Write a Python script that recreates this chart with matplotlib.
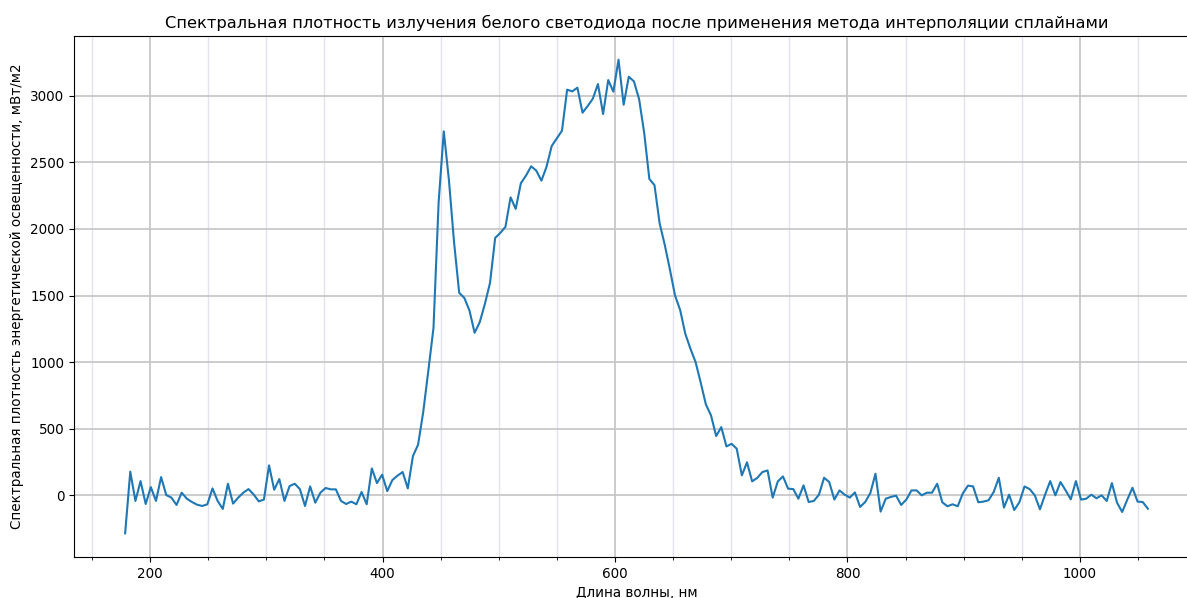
import numpy as np
import matplotlib
matplotlib.use("Agg")
import matplotlib.pyplot as plt
from matplotlib.ticker import MultipleLocator

# Wavelength grid: 200 evenly spaced samples between the first and last point
WL_START = 178.5
WL_STOP = 1058.5
N_POINTS = 200

# Spectral density values, mW/m2
density = [
    -285, 178, -42, 107, -65, 62, -42, 137, 2, -17,
    -72, 20, -25, -50, -70, -80, -67, 52, -42, -102,
    87, -62, -17, 20, 47, 7, -45, -32, 225, 42,
    122, -42, 70, 87, 47, -80, 67, -55, 20, 55,
    45, 45, -42, -65, -47, -67, 25, -67, 202, 92,
    155, 32, 115, 148, 175, 52, 295, 380, 625, 937,
    1257, 2200, 2732, 2367, 1900, 1520, 1482, 1387, 1220, 1300,
    1437, 1595, 1932, 1970, 2015, 2237, 2150, 2343, 2400, 2470,
    2437, 2362, 2467, 2622, 2680, 2737, 3045, 3032, 3060, 2872,
    2922, 2977, 3087, 2862, 3117, 3030, 3270, 2932, 3142, 3107,
    2975, 2720, 2375, 2328, 2042, 1880, 1695, 1500, 1390, 1212,
    1100, 1000, 845, 682, 600, 445, 512, 367, 387, 350,
    150, 248, 105, 131, 175, 187, -17, 105, 142, 50,
    47, -25, 75, -50, -42, 5, 132, 100, -32, 37,
    5, -17, 22, -87, -50, 17, 162, -122, -25, -12,
    -2, -72, -32, 37, 37, 0, 20, 20, 87, -52,
    -82, -67, -82, 15, 73, 67, -52, -47, -37, 25,
    132, -92, 5, -110, -52, 67, 47, 0, -105, 5,
    107, 0, 100, 37, -30, 107, -32, -25, 5, -22,
    0, -42, 92, -55, -125, -32, 57, -47, -50, -100,
]

TITLE = "Спектральная плотность излучения белого светодиода после применения метода интерполяции сплайнами"
XLABEL = "Длина волны, нм"
YLABEL = "Спектральная плотность энергетической освещенности, мВт/м2"

FS = 9.75  # text in the reference is a touch smaller than the defaults


def main():
    wavelength = np.linspace(WL_START, WL_STOP, N_POINTS)

    fig = plt.figure(figsize=(11.87, 5.98), dpi=100)
    # the right edge of the original axes was cut off by the image border
    ax = fig.add_axes([74 / 1187, 41 / 598, 1125 / 1187, 521 / 598])
    ax.plot(wavelength, density, color="#1f77b4", linewidth=1.5)

    ax.xaxis.set_minor_locator(MultipleLocator(50))
    ax.grid(which="major", color="#c4c4c4", linewidth=1.2)
    ax.grid(which="minor", axis="x", color="#e2e2f0", linewidth=1.0)
    ax.set_axisbelow(True)
    ax.tick_params(labelsize=FS)

    ax.set_title(TITLE, fontsize=11.7)
    ax.set_xlabel(XLABEL, fontsize=FS)
    ax.set_ylabel(YLABEL, fontsize=FS)

    fig.savefig("out.png", dpi=100)


if __name__ == "__main__":
    main()
